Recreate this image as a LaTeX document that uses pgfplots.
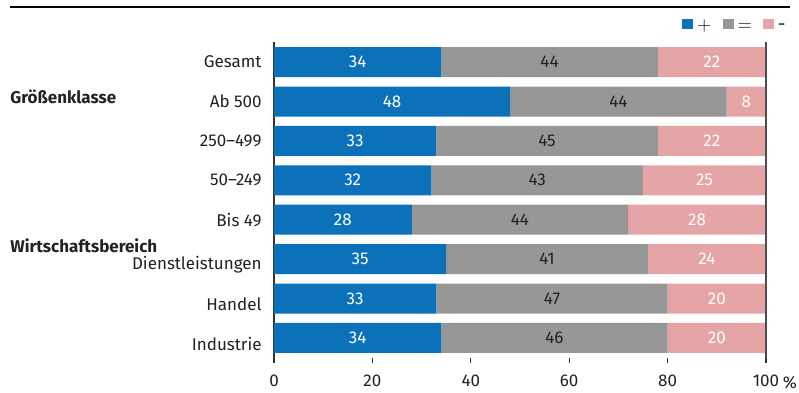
\documentclass[border=0pt]{standalone}
\usepackage{fontspec}
\setmainfont{Fira Sans}
\usepackage{pgfplots}
\usepackage{pgfplotstable}
\pgfplotsset{compat=1.18}
\definecolor{cplus}{HTML}{0B72BA}
\definecolor{ceq}{HTML}{979797}
\definecolor{cminus}{HTML}{E5A4A6}
\definecolor{ctext}{HTML}{222222}

\pgfplotstableread{
row plus eq minus
0 34 44 22
1 48 44 8
2 33 45 22
3 32 43 25
4 28 44 28
5 35 41 24
6 33 47 20
7 34 46 20
}\datatable

\begin{document}
\fontsize{8.5pt}{10pt}\selectfont
\begin{tikzpicture}
\path[use as bounding box] (-137pt,-17pt) rectangle (262.5pt,179pt);
\draw[line width=0.7pt] (-132pt,175.5pt) -- (258pt,175.5pt);
\begin{axis}[
  at={(0,0)}, anchor=south west,
  scale only axis, width=246pt, height=158pt,
  xbar stacked, bar width=15pt,
  xmin=0, xmax=100, ymin=-0.51, ymax=7.51, y dir=reverse,
  axis line style={draw=none},
  ytick=\empty,
  xtick={0,20,40,60,80,100},
  tick align=outside, xtick pos=bottom,
  major tick length=2.5pt,
  tick style={black!80, line width=0.6pt},
  xticklabel style={anchor=base, yshift=-11.5pt, text=ctext},
  /pgf/number format/assume math mode=true,
  nodes near coords,
  every node near coord/.append style={font=\fontsize{8.5pt}{10pt}\selectfont},
  legend columns=3,
  legend style={draw=none, fill=none, at={(rel axis cs:1,1)}, anchor=south east, xshift=12pt, yshift=2.5pt, inner sep=0pt,
    font=\fontsize{9.5pt}{11pt}\selectfont, text=ctext,
    /tikz/every even column/.append style={column sep=3.5pt}},
  legend image code/.code={\fill[#1] (0pt,-2.5pt) rectangle (5.5pt,2.5pt);},
  clip=false,
]
\draw[black!70, line width=0.6pt] (axis cs:100,-0.51) -- (axis cs:100,7.51);
\addplot[fill=cplus, draw=none, every node near coord/.append style={text=white}] table[x=plus, y=row] {\datatable};
\addlegendentry{\fontsize{9.5pt}{11pt}\selectfont\strut$+$}
\addplot[fill=ceq, draw=none, every node near coord/.append style={text=ctext}] table[x=eq, y=row] {\datatable};
\addlegendentry{\fontsize{9.5pt}{11pt}\selectfont\strut$=$}
\addplot[fill=cminus, draw=none, every node near coord/.append style={text=white}] table[x=minus, y=row] {\datatable};
\addlegendentry{\fontsize{9.5pt}{11pt}\selectfont\strut-}
\draw[black!80, line width=0.7pt] (axis cs:0,-0.51) -- (axis cs:0,7.51);
\node[anchor=east, inner sep=0pt, text=ctext] at ([xshift=-6pt]axis cs:0,0) {Gesamt};
\node[anchor=east, inner sep=0pt, text=ctext] at ([xshift=-6pt]axis cs:0,1) {Ab 500};
\node[anchor=east, inner sep=0pt, text=ctext] at ([xshift=-6pt]axis cs:0,2) {250–499};
\node[anchor=east, inner sep=0pt, text=ctext] at ([xshift=-6pt]axis cs:0,3) {50–249};
\node[anchor=east, inner sep=0pt, text=ctext] at ([xshift=-6pt]axis cs:0,4) {Bis 49};
\node[anchor=east, inner sep=0pt, text=ctext] at ([xshift=-6pt,yshift=-3pt]axis cs:0,5) {Dienstleistungen};
\node[anchor=east, inner sep=0pt, text=ctext] at ([xshift=-6pt,yshift=-3pt]axis cs:0,6) {Handel};
\node[anchor=east, inner sep=0pt, text=ctext] at ([xshift=-6pt,yshift=-3pt]axis cs:0,7) {Industrie};
\node[anchor=west, inner sep=0pt, text=ctext, font=\bfseries] at ([xshift=-132pt]axis cs:0,0.88) {Größenklasse};
\node[anchor=west, inner sep=0pt, text=ctext, font=\bfseries] at ([xshift=-132pt]axis cs:0,4.66) {Wirtschaftsbereich};
\node[anchor=base, text=ctext] at ([xshift=12pt, yshift=-15pt]rel axis cs:1,0) {\%};
\end{axis}
\end{tikzpicture}
\end{document}
